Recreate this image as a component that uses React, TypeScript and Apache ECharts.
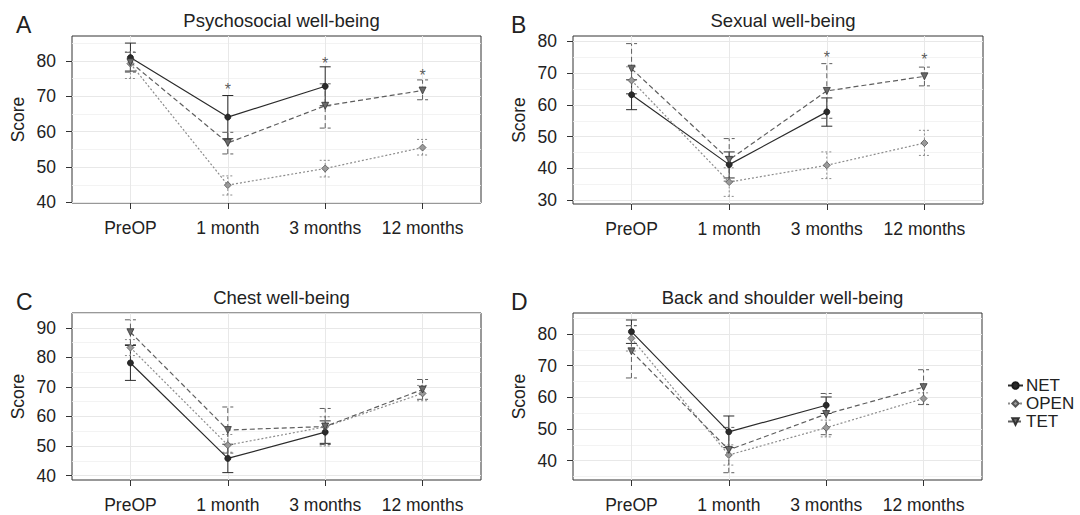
import React, { useEffect, useRef } from 'react';
import * as echarts from 'echarts';

const categories = ['PreOP', '1 month', '3 months', '12 months'];
const groups = ['NET', 'OPEN', 'TET'];
const panelTitles = ['Psychosocial well-being', 'Sexual well-being', 'Chest well-being', 'Back and shoulder well-being'];
const panelLetters = ['A', 'B', 'C', 'D'];

// Panel A – Psychosocial well-being
const psyNET = [80.9, 64.1, 72.8, null];
const psyNETci = [[77.1, 85.0], [58.0, 70.2], [67.3, 78.3], null];
const psyOPEN = [79.2, 44.9, 49.6, 55.5];
const psyOPENci = [[75.0, 82.5], [42.1, 47.5], [47.2, 51.9], [53.4, 57.8]];
const psyTET = [79.6, 56.8, 67.3, 71.6];
const psyTETci = [[76.8, 82.4], [53.7, 59.8], [61.0, 73.5], [69.0, 74.6]];
const psyStars = [[1, 72.9], [2, 80.4], [3, 77.1]];
const psyTicks = [40, 50, 60, 70, 80];

// Panel B – Sexual well-being
const sexNET = [63.2, 41.2, 57.8, null];
const sexNETci = [[58.5, 67.9], [37.0, 45.2], [53.3, 62.2], null];
const sexOPEN = [67.7, 35.7, 41.0, 48.0];
const sexOPENci = [[63.5, 72.0], [31.2, 40.2], [36.8, 45.2], [44.1, 52.0]];
const sexTET = [71.4, 42.7, 64.4, 69.0];
const sexTETci = [[63.5, 79.3], [36.0, 49.4], [55.8, 73.0], [66.0, 71.9]];
const sexStars = [[2, 76.1], [3, 75.6]];
const sexTicks = [30, 40, 50, 60, 70, 80];

// Panel C – Chest well-being
const chestNET = [78.1, 45.8, 54.7, null];
const chestNETci = [[72.2, 84.0], [41.0, 50.6], [50.9, 58.5], null];
const chestOPEN = [83.3, 50.3, 56.5, 67.8];
const chestOPENci = [[80.6, 86.0], [47.9, 53.9], [50.0, 59.9], [65.3, 70.5]];
const chestTET = [88.5, 55.4, 56.6, 69.1];
const chestTETci = [[84.3, 92.7], [47.6, 63.2], [50.5, 62.7], [65.8, 72.5]];
const chestStars: number[][] = [];
const chestTicks = [40, 50, 60, 70, 80, 90];

// Panel D – Back and shoulder well-being
const backNET = [80.7, 49.1, 57.5, null];
const backNETci = [[77.0, 84.4], [44.1, 54.1], [54.9, 60.1], null];
const backOPEN = [78.6, 41.8, 50.4, 59.6];
const backOPENci = [[74.6, 82.6], [38.6, 45.0], [47.5, 52.8], [57.8, 61.4]];
const backTET = [74.5, 43.4, 54.7, 63.2];
const backTETci = [[66.1, 82.6], [36.2, 50.5], [48.2, 61.2], [57.7, 68.7]];
const backStars: number[][] = [];
const backTicks = [40, 50, 60, 70, 80];

const yMins = [39.85, 28.8, 38.5, 33.9];
const yMaxs = [87.0, 81.7, 95.0, 86.6];

const panels = [
  { means: [psyNET, psyOPEN, psyTET], cis: [psyNETci, psyOPENci, psyTETci], stars: psyStars, ticks: psyTicks },
  { means: [sexNET, sexOPEN, sexTET], cis: [sexNETci, sexOPENci, sexTETci], stars: sexStars, ticks: sexTicks },
  { means: [chestNET, chestOPEN, chestTET], cis: [chestNETci, chestOPENci, chestTETci], stars: chestStars, ticks: chestTicks },
  { means: [backNET, backOPEN, backTET], cis: [backNETci, backOPENci, backTETci], stars: backStars, ticks: backTicks },
];

const layout = [
  { left: 72, top: 36, width: 409, height: 167 },
  { left: 573, top: 36, width: 410, height: 168 },
  { left: 72, top: 313, width: 409, height: 167 },
  { left: 573, top: 313, width: 409, height: 167 },
];

const FONT = '"Liberation Sans", Arial, Helvetica, sans-serif';

const groupStyle = [
  { color: '#2b2b2b', dash: [] as number[], lineType: 'solid', symbol: 'circle', size: 6, fill: '#2b2b2b', border: '#1a1a1a', rotate: 0 },
  { color: '#8c8c8c', dash: [2, 2], lineType: [2, 2], symbol: 'diamond', size: 7, fill: '#9a9a9a', border: '#555555', rotate: 0 },
  { color: '#5e5e5e', dash: [5, 3], lineType: [5, 3], symbol: 'triangle', size: 7, fill: '#6a6a6a', border: '#333333', rotate: 180 },
];

function minorValues(min: number, max: number): number[] {
  const out: number[] = [];
  for (let v = Math.ceil(min / 5) * 5; v <= max; v += 5) {
    if (v % 10 !== 0) out.push(v);
  }
  return out;
}

export default function App() {
  const ref = useRef<HTMLDivElement>(null);

  useEffect(() => {
    if (!ref.current) return;
    const chart = echarts.init(ref.current, undefined, { renderer: 'svg' });

    const grids: any[] = [];
    const xAxes: any[] = [];
    const yAxes: any[] = [];
    const series: any[] = [];
    const titles: any[] = [];

    panels.forEach((p, pi) => {
      const L = layout[pi];
      grids.push({
        left: L.left, top: L.top, width: L.width, height: L.height,
        show: true, borderColor: '#333', borderWidth: 1, backgroundColor: '#fff',
      });
      xAxes.push({
        type: 'value', gridIndex: pi, min: -0.6, max: 3.6, position: 'bottom',
        axisLine: { show: false, onZero: false },
        axisTick: { show: true, length: 6, lineStyle: { color: '#333' }, customValues: [0, 1, 2, 3] },
        axisLabel: {
          show: true, customValues: [0, 1, 2, 3], margin: 16,
          formatter: (v: number) => categories[Math.round(v)] ?? '',
          fontFamily: FONT, fontSize: 17.5, color: '#222',
        },
        splitLine: { show: true, lineStyle: { color: '#e8e8e8', width: 1 } },
      });
      yAxes.push({
        type: 'value', gridIndex: pi, min: yMins[pi], max: yMaxs[pi], position: 'left',
        name: 'Score', nameLocation: 'middle', nameGap: 45, nameRotate: 90,
        nameTextStyle: { fontFamily: FONT, fontSize: 17.5, color: '#222' },
        axisLine: { show: false, onZero: false },
        axisTick: { show: true, length: 6, lineStyle: { color: '#333' }, customValues: p.ticks },
        axisLabel: { show: true, customValues: p.ticks, margin: 16, fontFamily: FONT, fontSize: 17.5, color: '#222' },
        splitLine: { show: true, lineStyle: { color: '#e8e8e8', width: 1 } },
      });
      yAxes.push({
        type: 'value', gridIndex: pi, min: yMins[pi], max: yMaxs[pi], position: 'left',
        axisLine: { show: false, onZero: false },
        axisTick: { show: false, customValues: minorValues(yMins[pi], yMaxs[pi]) },
        axisLabel: { show: false },
        splitLine: { show: true, lineStyle: { color: '#f0f0f0', width: 0.8 } },
      });

      const yMain = pi * 2;
      groups.forEach((g, gi) => {
        const st = groupStyle[gi];
        const ci = p.cis[gi];
        const errData: any[] = [];
        ci.forEach((c, i) => { if (c) errData.push([i, c[0], c[1]]); });
        series.push({
          type: 'custom', name: g + ' CI', xAxisIndex: pi, yAxisIndex: yMain, z: 2,
          encode: { x: 0, y: [1, 2] },
          data: errData,
          renderItem: (params: any, api: any) => {
            const x = api.value(0);
            const lo = api.coord([x, api.value(1)]);
            const hi = api.coord([x, api.value(2)]);
            const w = 5.5;
            const style = { stroke: st.color, lineWidth: 1, lineDash: st.dash, fill: null };
            return {
              type: 'group',
              children: [
                { type: 'line', shape: { x1: lo[0], y1: lo[1], x2: hi[0], y2: hi[1] }, style },
                { type: 'line', shape: { x1: lo[0] - w, y1: lo[1], x2: lo[0] + w, y2: lo[1] }, style },
                { type: 'line', shape: { x1: hi[0] - w, y1: hi[1], x2: hi[0] + w, y2: hi[1] }, style },
              ],
            };
          },
        });
      });
      groups.forEach((g, gi) => {
        const st = groupStyle[gi];
        series.push({
          type: 'line', name: g, xAxisIndex: pi, yAxisIndex: yMain, z: 3,
          data: p.means[gi].map((v, i) => [i, v]),
          connectNulls: false,
          symbol: st.symbol, symbolSize: st.size, symbolRotate: st.rotate, showSymbol: true,
          itemStyle: { color: st.fill, borderColor: st.border, borderWidth: 0.8 },
          lineStyle: { color: st.color, width: 1.2, type: st.lineType },
        });
      });
      if (p.stars.length) {
        series.push({
          type: 'scatter', name: 'sig', xAxisIndex: pi, yAxisIndex: yMain, z: 4,
          data: p.stars, symbolSize: 1, itemStyle: { color: 'rgba(0,0,0,0)' },
          label: { show: true, formatter: '*', position: 'inside', offset: [0, 4], fontFamily: FONT, fontSize: 16, color: '#333' },
        });
      }

      titles.push({
        text: panelTitles[pi], left: L.left + L.width / 2, top: L.top - 30, textAlign: 'center',
        textStyle: { fontFamily: FONT, fontSize: 18.5, fontWeight: 'normal', color: '#222' },
      });
      titles.push({
        text: panelLetters[pi], left: pi % 2 === 0 ? 11 : 506, top: L.top - 28,
        textStyle: { fontFamily: FONT, fontSize: 23, fontWeight: 'normal', color: '#222' },
      });
    });

    chart.setOption({
      animation: false,
      backgroundColor: '#fff',
      title: titles,
      grid: grids,
      xAxis: xAxes,
      yAxis: yAxes,
      series,
      legend: {
        data: groups, orient: 'vertical', left: 1002, top: 372, itemGap: 1,
        itemWidth: 15, itemHeight: 8,
        textStyle: { fontFamily: FONT, fontSize: 17, color: '#222', padding: [0, 0, 0, -2] },
      },
    });

    return () => chart.dispose();
  }, []);

  return <div ref={ref} style={{ position: 'fixed', left: 0, top: 0, width: 1080, height: 515 }} />;
}
